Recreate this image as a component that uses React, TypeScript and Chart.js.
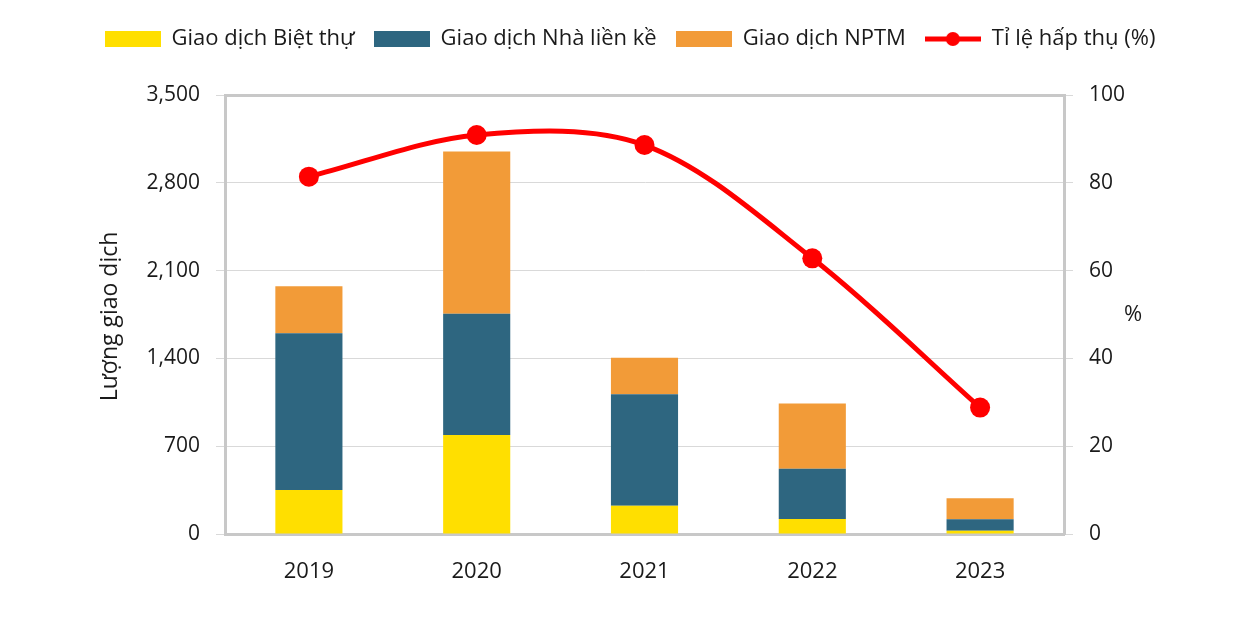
import React, { useEffect, useRef } from "react";
import { Chart, registerables } from "chart.js";

Chart.register(...registerables);

const categories = ["2019", "2020", "2021", "2022", "2023"];
const bietThu = [350, 790, 225, 120, 26];
const nhaLienKe = [1250, 965, 890, 400, 91];
const nptm = [375, 1295, 290, 520, 168];
const tiLeHapThu = [81.4, 90.9, 88.6, 62.8, 28.8];

const seriesLabels = [
  "Giao dịch Biệt thự",
  "Giao dịch Nhà liền kề",
  "Giao dịch NPTM",
  "Tỉ lệ hấp thụ (%)",
];
const leftTitle = "Lượng giao dịch";
const rightTitle = "%";

const COLORS = ["#FFDF00", "#2E6680", "#F29B38", "#FF0000"];
const FONT = "'Open Sans', 'Noto Sans', sans-serif";
const TEXT = "#1a1a1a";
const GRID = "#d9d9d9";
const FRAME = "#c8c8c8";

function makeLegendImage(kind: "box" | "line", color: string) {
  const c = document.createElement("canvas");
  c.width = 56;
  c.height = 18;
  const g = c.getContext("2d")!;
  if (kind === "box") {
    g.fillStyle = color;
    g.fillRect(0, 1, 56, 16);
  } else {
    g.strokeStyle = color;
    g.lineWidth = 5;
    g.beginPath();
    g.moveTo(0, 9);
    g.lineTo(56, 9);
    g.stroke();
    g.fillStyle = color;
    g.beginPath();
    g.arc(28, 9, 7, 0, Math.PI * 2);
    g.fill();
  }
  return c;
}

const axisTitles = {
  id: "axisTitles",
  afterDraw(chart: any) {
    const { ctx, chartArea } = chart;
    const midY = (chartArea.top + chartArea.bottom) / 2;
    ctx.save();
    ctx.fillStyle = TEXT;
    ctx.font = `23px ${FONT}`;
    ctx.textAlign = "center";
    ctx.textBaseline = "middle";
    ctx.translate(110, midY + 2);
    ctx.rotate(-Math.PI / 2);
    ctx.fillText(leftTitle, 0, 0);
    ctx.restore();
    ctx.save();
    ctx.fillStyle = TEXT;
    ctx.font = `22px ${FONT}`;
    ctx.textAlign = "center";
    ctx.textBaseline = "middle";
    ctx.fillText(rightTitle, 1133, midY);
    ctx.restore();
  },
};

export default function App() {
  const ref = useRef<HTMLCanvasElement>(null);
  useEffect(() => {
    document.body.style.margin = "0";
    const images = [
      makeLegendImage("box", COLORS[0]),
      makeLegendImage("box", COLORS[1]),
      makeLegendImage("box", COLORS[2]),
      makeLegendImage("line", COLORS[3]),
    ];
    const barSets = [bietThu, nhaLienKe, nptm].map((d, i) => ({
      type: "bar" as const,
      label: seriesLabels[i],
      data: d,
      backgroundColor: COLORS[i],
      borderWidth: 0,
      yAxisID: "y",
      stack: "s",
      barPercentage: 0.4,
      categoryPercentage: 1,
      order: 1,
    }));
    const chart = new Chart(ref.current!, {
      data: {
        labels: categories,
        datasets: [
          ...barSets,
          {
            type: "line" as const,
            label: seriesLabels[3],
            data: tiLeHapThu,
            borderColor: COLORS[3],
            backgroundColor: COLORS[3],
            borderWidth: 5,
            pointRadius: 10,
            pointBorderWidth: 0,
            pointBackgroundColor: COLORS[3],
            tension: 0.33,
            yAxisID: "y1",
            order: 0,
          },
        ] as any,
      },
      options: {
        responsive: false,
        animation: false,
        layout: { padding: { left: 26, top: 9, right: 0, bottom: 0 } },
        plugins: {
          tooltip: { enabled: false },
          legend: {
            position: "top",
            labels: {
              usePointStyle: true,
              pointStyleWidth: 56,
              boxHeight: 18,
              padding: 19,
              color: TEXT,
              font: { family: FONT, size: 22 },
              sort: (a: any, b: any) => a.datasetIndex - b.datasetIndex,
              generateLabels: (ch: any) => {
                const items = (Chart.defaults.plugins.legend.labels as any).generateLabels(ch);
                items.forEach((it: any) => {
                  it.pointStyle = images[it.datasetIndex];
                });
                return items;
              },
            },
          },
          title: {
            display: true,
            text: "",
            weight: 500,
            font: { size: 10 },
            padding: { top: 11, bottom: 12 },
          } as any,
        },
        scales: {
          x: {
            stacked: true,
            grid: { display: false, drawTicks: false },
            border: { display: true, color: FRAME, width: 3 },
            ticks: { color: TEXT, font: { family: FONT, size: 22 }, padding: 25 },
            afterFit: (s: any) => {
              s.height = 89;
            },
          },
          y: {
            stacked: true,
            position: "left",
            min: 0,
            max: 3500,
            ticks: {
              stepSize: 700,
              color: TEXT,
              font: { family: FONT, size: 21 },
              padding: 16,
            },
            grid: {
              color: (c: any) => (c.tick && c.tick.value === 3500 ? FRAME : GRID),
              lineWidth: (c: any) => (c.tick && c.tick.value === 3500 ? 3 : 1),
              tickColor: GRID,
              tickWidth: 1,
              tickLength: 9,
            },
            border: { display: true, color: FRAME, width: 3 },
            afterFit: (s: any) => {
              s.width = 199;
            },
          },
          y1: {
            position: "right",
            min: 0,
            max: 100,
            ticks: {
              stepSize: 20,
              color: TEXT,
              font: { family: FONT, size: 21 },
              padding: 16,
            },
            grid: {
              drawOnChartArea: false,
              tickColor: GRID,
              tickWidth: 1,
              tickLength: 9,
            },
            border: { display: true, color: FRAME, width: 3 },
            afterFit: (s: any) => {
              s.width = 170;
            },
          },
        },
      } as any,
      plugins: [axisTitles],
    });
    return () => chart.destroy();
  }, []);
  return (
    <div style={{ width: 1234, height: 623, background: "#fff" }}>
      <canvas ref={ref} width={1234} height={623} />
    </div>
  );
}
